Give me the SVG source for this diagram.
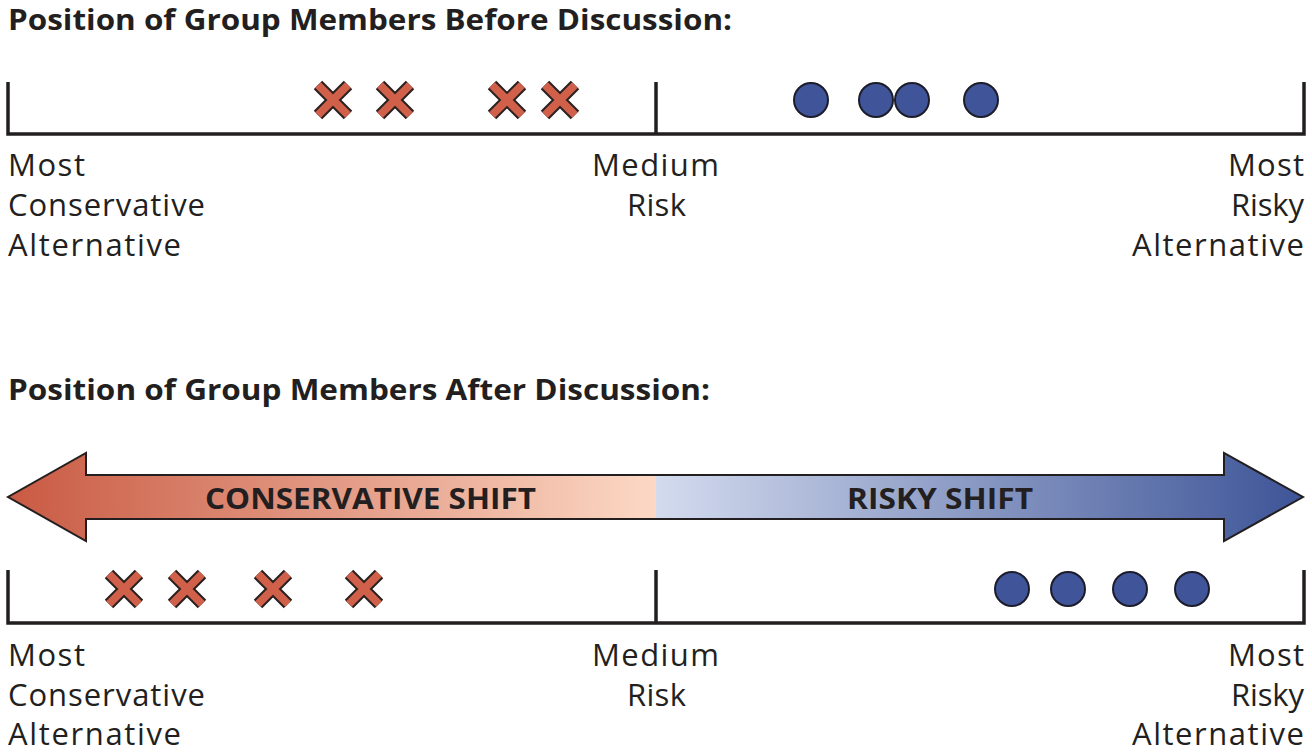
<svg xmlns="http://www.w3.org/2000/svg" width="1312" height="752" viewBox="0 0 1312 752">
<defs>
<linearGradient id="gl" x1="8" y1="0" x2="656" y2="0" gradientUnits="userSpaceOnUse"><stop offset="0" stop-color="#c95a43"/><stop offset="1" stop-color="#fcd9c5"/></linearGradient>
<linearGradient id="gr" x1="656" y1="0" x2="1303" y2="0" gradientUnits="userSpaceOnUse"><stop offset="0" stop-color="#d3dbee"/><stop offset="1" stop-color="#3d5497"/></linearGradient>
<g id="x"><path d="M-15,-15L15,15M15,-15L-15,15" stroke="#2a2020" stroke-width="12"/><path d="M-15,-15L15,15M15,-15L-15,15" stroke="#d0604a" stroke-width="8"/></g>
<circle id="o" r="17" fill="#3f5499" stroke="#1c1c2a" stroke-width="2"/>
</defs>
<style>
.t{font-family:"Open Sans","Liberation Sans",sans-serif;font-size:31px;fill:#231f20}
.h{font-family:"Open Sans","Liberation Sans",sans-serif;font-size:28px;font-weight:bold;fill:#231f20}
.a{fill:none;stroke:#231f20;stroke-width:3.5}
</style>
<rect width="1312" height="752" fill="#fff"/>
<text class="h" x="8" y="30" textLength="724" lengthAdjust="spacingAndGlyphs">Position of Group Members Before Discussion:</text>
<text class="h" x="8" y="400" textLength="702" lengthAdjust="spacingAndGlyphs">Position of Group Members After Discussion:</text>
<g id="axis1"><path class="a" d="M8,82V134H1304V82M656,82V134"/></g>
<g id="axis2"><path class="a" d="M8,570V623H1304V570M656,570V623"/></g>
<g id="labels1">
<text class="t" x="8" y="176" textLength="77">Most</text><text class="t" x="8" y="216" textLength="197">Conservative</text><text class="t" x="8" y="256" textLength="173">Alternative</text>
<text class="t" x="592" y="176" textLength="127">Medium</text><text class="t" x="627" y="216" textLength="59">Risk</text>
<text class="t" x="1228" y="176" textLength="76">Most</text><text class="t" x="1231" y="216" textLength="73">Risky</text><text class="t" x="1132" y="256" textLength="172">Alternative</text>
</g>
<g id="labels2">
<text class="t" x="8" y="666" textLength="77">Most</text><text class="t" x="8" y="706" textLength="197">Conservative</text><text class="t" x="8" y="745" textLength="173">Alternative</text>
<text class="t" x="592" y="666" textLength="127">Medium</text><text class="t" x="627" y="706" textLength="59">Risk</text>
<text class="t" x="1228" y="666" textLength="76">Most</text><text class="t" x="1231" y="706" textLength="73">Risky</text><text class="t" x="1132" y="745" textLength="172">Alternative</text>
</g>
<g id="marks1">
<use href="#x" x="333" y="100"/><use href="#x" x="395" y="100"/><use href="#x" x="507" y="100"/><use href="#x" x="560" y="100"/>
<use href="#o" x="811" y="100"/><use href="#o" x="876" y="100"/><use href="#o" x="912" y="100"/><use href="#o" x="981" y="100"/>
</g>
<g id="marks2">
<use href="#x" x="124" y="589"/><use href="#x" x="187" y="589"/><use href="#x" x="273" y="589"/><use href="#x" x="364" y="589"/>
<use href="#o" x="1012" y="589"/><use href="#o" x="1068" y="589"/><use href="#o" x="1130" y="589"/><use href="#o" x="1192" y="589"/>
</g>
<g id="shift">
<path d="M656,475H86V453L8,497L86,541V519H656Z" fill="url(#gl)"/>
<path d="M656,475H1224V453L1303,497L1224,541V519H656Z" fill="url(#gr)"/>
<path d="M656,475H86V453L8,497L86,541V519H1224V541L1303,497L1224,453V475Z" fill="none" stroke="#231f20" stroke-width="2"/>
<text class="h" x="205" y="509" font-size="31" textLength="331" lengthAdjust="spacingAndGlyphs">CONSERVATIVE SHIFT</text>
<text class="h" x="847" y="509" font-size="31" textLength="186" lengthAdjust="spacingAndGlyphs">RISKY SHIFT</text>
</g>
</svg>
